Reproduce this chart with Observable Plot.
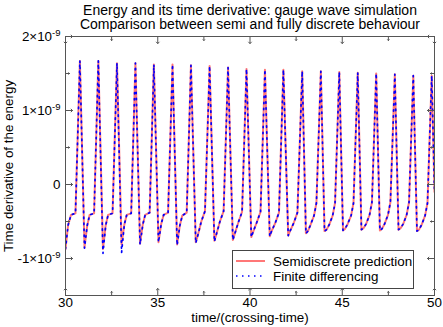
<!DOCTYPE html>
<html><head><meta charset="utf-8">
<script src="https://cdn.jsdelivr.net/npm/d3@7"></script>
<script src="https://cdn.jsdelivr.net/npm/@observablehq/plot@0.6"></script>
<style>body{margin:0;background:#fff} svg{display:block}</style>
</head><body><div id="chart"></div>
<script>
const titleLines = ["Energy and its time derivative: gauge wave simulation", "Comparison between semi and fully discrete behaviour"];
const xLabel = "time/(crossing-time)";
const yLabel = "Time derivative of the energy";
const seriesNames = ["Semidiscrete prediction", "Finite differencing"];
const xMajorTicks = [30, 35, 40, 45, 50];
const xMinorTicks = [32.5, 37.5, 42.5, 47.5];
const yMajorTicks = [-1, 0, 1, 2];          // units of 1e-9
const yMinorTicks = [-0.5, 0.5, 1.5];

const time = [
  30.00, 30.14, 30.30, 30.54,
  30.78, 31.03, 31.18, 31.31, 31.55,
  31.78, 32.03, 32.18, 32.31, 32.55,
  32.79, 33.04, 33.19, 33.32, 33.56,
  33.79, 34.04, 34.19, 34.32, 34.56,
  34.79, 35.04, 35.19, 35.32, 35.56,
  35.80, 36.05, 36.20, 36.33, 36.57,
  36.80, 37.06, 37.16, 37.36, 37.56,
  37.81, 38.07, 38.17, 38.37, 38.57,
  38.81, 39.07, 39.17, 39.37, 39.57,
  39.81, 40.07, 40.17, 40.37, 40.57,
  40.81, 41.07, 41.17, 41.37, 41.57,
  41.81, 42.07, 42.17, 42.37, 42.57,
  42.83, 43.03, 43.14, 43.29, 43.47, 43.60,
  43.84, 44.04, 44.15, 44.30, 44.48, 44.61,
  44.84, 45.04, 45.15, 45.30, 45.48, 45.61,
  45.84, 46.04, 46.15, 46.30, 46.48, 46.61,
  46.84, 47.04, 47.15, 47.30, 47.48, 47.61,
  47.85, 48.05, 48.16, 48.31, 48.49, 48.62,
  48.85, 49.05, 49.16, 49.31, 49.49, 49.62,
  49.85, 50.00
];
// values in units of 1e-9
const semidiscrete = [
  -0.87, -0.55, -0.41, -0.39,
  1.67, -0.85, -0.55, -0.41, -0.39,
  1.67, -0.87, -0.55, -0.41, -0.39,
  1.64, -0.81, -0.54, -0.41, -0.39,
  1.64, -0.80, -0.54, -0.41, -0.38,
  1.62, -0.78, -0.53, -0.41, -0.38,
  1.62, -0.81, -0.55, -0.42, -0.38,
  1.61, -0.78, -0.70, -0.50, -0.36,
  1.60, -0.76, -0.68, -0.50, -0.36,
  1.58, -0.75, -0.67, -0.51, -0.37,
  1.56, -0.71, -0.64, -0.51, -0.37,
  1.55, -0.70, -0.63, -0.52, -0.38,
  1.55, -0.69, -0.63, -0.52, -0.38,
  1.53, -0.66, -0.63, -0.54, -0.42, -0.25,
  1.53, -0.63, -0.61, -0.54, -0.42, -0.25,
  1.52, -0.62, -0.60, -0.53, -0.42, -0.25,
  1.51, -0.61, -0.59, -0.53, -0.41, -0.24,
  1.50, -0.62, -0.60, -0.53, -0.41, -0.24,
  1.49, -0.61, -0.59, -0.53, -0.41, -0.24,
  1.47, -0.63, -0.61, -0.54, -0.42, -0.25,
  1.47, -0.10
];
const finiteDifferencing = [
  -0.87, -0.55, -0.41, -0.39,
  1.67, -0.86, -0.55, -0.41, -0.39,
  1.67, -0.93, -0.55, -0.41, -0.39,
  1.64, -0.92, -0.54, -0.41, -0.39,
  1.64, -0.81, -0.54, -0.41, -0.38,
  1.62, -0.78, -0.53, -0.41, -0.38,
  1.62, -0.82, -0.55, -0.42, -0.38,
  1.61, -0.79, -0.70, -0.50, -0.36,
  1.60, -0.77, -0.68, -0.50, -0.36,
  1.58, -0.75, -0.67, -0.51, -0.37,
  1.56, -0.71, -0.64, -0.51, -0.37,
  1.55, -0.70, -0.63, -0.52, -0.38,
  1.55, -0.69, -0.63, -0.52, -0.38,
  1.53, -0.66, -0.63, -0.54, -0.42, -0.25,
  1.53, -0.63, -0.61, -0.54, -0.42, -0.25,
  1.52, -0.62, -0.60, -0.53, -0.42, -0.25,
  1.51, -0.61, -0.59, -0.53, -0.41, -0.24,
  1.50, -0.62, -0.60, -0.53, -0.41, -0.24,
  1.49, -0.61, -0.59, -0.53, -0.41, -0.24,
  1.47, -0.63, -0.61, -0.54, -0.42, -0.25,
  1.47, -0.10
];

const FONT = "'Liberation Sans', Arial, Helvetica, sans-serif";
const tickColor = "#555";
const semiColor = "#ff5555";
const fdColor = "#0000ff";
const fdDash = "1.5,4.5";

const tickMarks = (vals, len, anchor, rotate, ch) =>
  Plot.vector(vals, {[ch]: d => d, frameAnchor: anchor, rotate, length: len, anchor: "start", stroke: tickColor, strokeWidth: 1});

const chart = Plot.plot({
  width: 443,
  height: 327,
  marginLeft: 65,
  marginRight: 9,
  marginTop: 36,
  marginBottom: 32,
  style: {fontFamily: FONT, fontSize: "13.4px", color: "#000", background: "#fff"},
  x: {domain: [30, 50]},
  y: {domain: [-1.5, 2]},
  marks: [
    Plot.line(time, {x: time, y: semidiscrete, stroke: semiColor, strokeWidth: 2, strokeOpacity: 0.8, clip: true}),
    Plot.line(time, {x: time, y: finiteDifferencing, stroke: fdColor, strokeWidth: 1.7, strokeDasharray: fdDash, clip: true}),
    Plot.frame({stroke: tickColor}),
    tickMarks(xMajorTicks, 7, "bottom", 0, "x"),
    tickMarks(xMinorTicks, 4, "bottom", 0, "x"),
    tickMarks(xMajorTicks, 7, "top", 180, "x"),
    tickMarks(xMinorTicks, 4, "top", 180, "x"),
    tickMarks(yMajorTicks, 7, "left", 90, "y"),
    tickMarks(yMinorTicks, 4, "left", 90, "y"),
    tickMarks(yMajorTicks, 7, "right", -90, "y"),
    tickMarks(yMinorTicks, 4, "right", -90, "y"),
    Plot.axisX({ticks: xMajorTicks, tickSize: 0, tickPadding: 2, label: null, tickFormat: d => String(d)}),
    Plot.axisY({ticks: yMajorTicks, tickSize: 0, tickPadding: 5, label: null,
      tickFormat: d => d === 0 ? "0" : `${d < 0 ? "-" : ""}${Math.abs(d)}×10^-9`}),
    Plot.text([titleLines[0]], {frameAnchor: "top", lineAnchor: "middle", dy: -26, fontSize: 14}),
    Plot.text([titleLines[1]], {frameAnchor: "top", lineAnchor: "middle", dy: -11.5, fontSize: 14}),
    Plot.text([xLabel], {frameAnchor: "bottom", lineAnchor: "middle", dy: 22.5, fontSize: 13.4}),
    Plot.text([yLabel], {frameAnchor: "left", textAnchor: "middle", dx: -57, rotate: -90, fontSize: 13.4})
  ]
});

// superscript exponents on y tick labels
chart.querySelectorAll('g[aria-label="y-axis tick label"] text').forEach(t => {
  const s = t.textContent; const i = s.indexOf("^");
  if (i < 0) return;
  t.textContent = s.slice(0, i);
  const sup = document.createElementNS("http://www.w3.org/2000/svg", "tspan");
  sup.setAttribute("dy", "-0.5em");
  sup.setAttribute("font-size", "9.5");
  sup.textContent = s.slice(i + 1);
  t.appendChild(sup);
});

// legend
const svg = d3.select(chart);
const lg = svg.append("g").attr("font-family", FONT).attr("font-size", 13.4).attr("text-anchor", "start");
lg.append("rect").attr("x", 232.5).attr("y", 250.5).attr("width", 181).attr("height", 38)
  .attr("fill", "#fff").attr("stroke", "#444");
lg.append("line").attr("x1", 236).attr("x2", 265).attr("y1", 261).attr("y2", 261)
  .attr("stroke", semiColor).attr("stroke-opacity", 0.8).attr("stroke-width", 2);
lg.append("line").attr("x1", 236).attr("x2", 265).attr("y1", 276).attr("y2", 276)
  .attr("stroke", fdColor).attr("stroke-width", 1.7).attr("stroke-dasharray", fdDash);
lg.append("text").attr("x", 273).attr("y", 265.5).attr("text-anchor", "start").text(seriesNames[0]);
lg.append("text").attr("x", 273).attr("y", 280.5).attr("text-anchor", "start").text(seriesNames[1]);

document.getElementById("chart").appendChild(chart);
</script>
</body></html>
